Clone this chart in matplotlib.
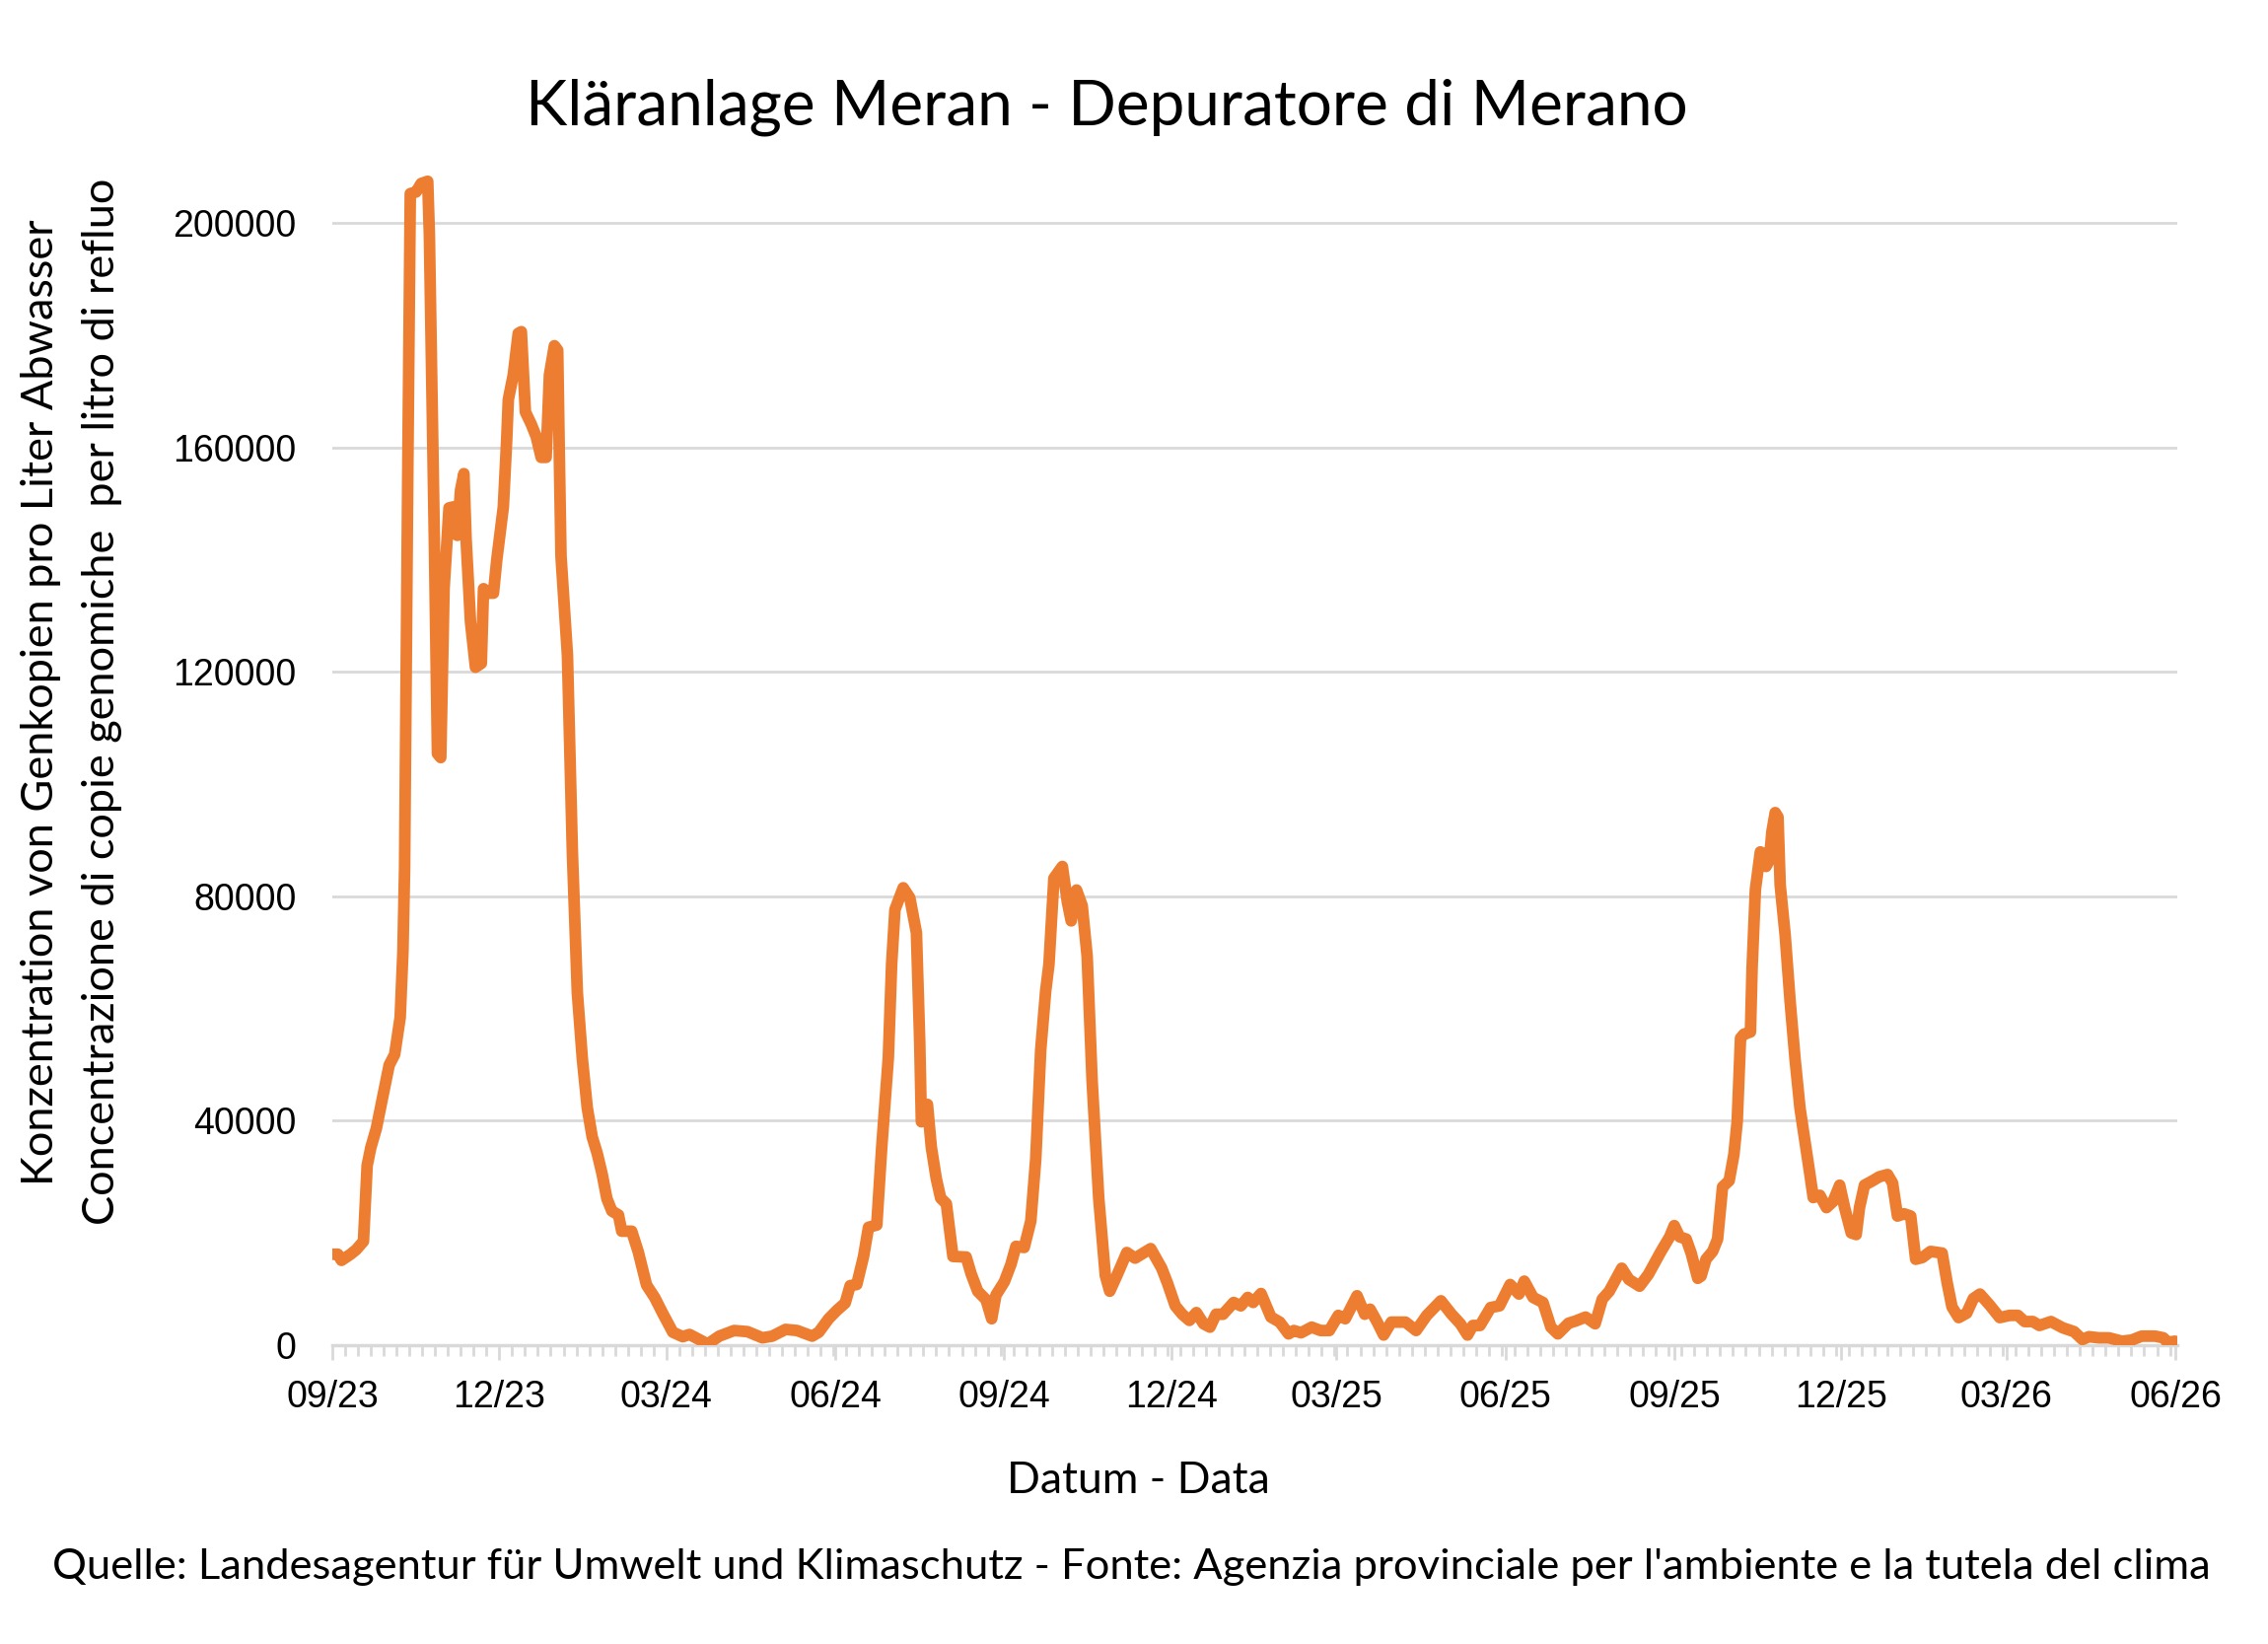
import numpy as np
import pandas as pd
import matplotlib
matplotlib.use("Agg")
import matplotlib.pyplot as plt
import matplotlib.dates as mdates
from matplotlib.ticker import FixedLocator

# --- data: days since 2023-09-01 and concentration (copies / litre) ---
start = pd.Timestamp("2023-09-01")

days = [
    0, 3, 5, 10, 13, 17, 19, 21, 24, 29, 31, 34, 37, 38.5, 39.4, 41.2, 42.5, 45.7, 48.4, 52,
    52.9, 55.6, 57.3, 59.1, 60.9, 63.6, 66.3, 68.1, 69.9, 71.7, 72.9, 75.3, 78, 81.2, 82.4, 84.8,
    87.8, 89.6, 93.2, 95, 95.9, 98.6, 101.3, 103, 105.2, 108.4, 111.1, 113.8, 116.5, 118.3, 121,
    122.8, 123.7, 124.6, 128.1, 130.8, 133.5, 136.2, 138.9, 141.6, 144.3, 147, 149.6, 152.3,
    155.9, 157.7, 163.1, 166.7, 171.2, 175.6, 180.1, 185.5, 190.9,
    194.6, 204.5, 210.8, 218.9, 226.2, 234.3, 239.7, 246.9, 253.2, 261.4, 265, 270.4, 274.9,
    279.4, 282.1, 285.7, 289.4, 292.1, 296.6, 299.3, 302.9, 304.7, 306.5, 311, 314.6, 318.2, 320,
    320.9, 324.2, 326.3, 329, 331.4, 334.5, 338.1, 345.3, 348, 351.6, 356.1, 359.2, 361.5, 366.1,
    369.7, 372.4, 376.9, 380.5, 383.2, 385.9, 388.6, 390.4, 393.1, 397.7, 400.4, 402.5, 405.4,
    408.5, 411.2, 413.9, 417.5, 421.1, 423.5, 427.4, 432.8, 437.3, 445.8, 451.8,
    455, 459.2, 463, 466.9, 470.7, 474.6, 478.1, 481.4, 485.2, 491, 494.9, 498.7, 501.6, 505.9,
    511.3, 516.1, 520.9, 523.8, 527.7, 533.5, 538.3, 543.1, 548, 551.8, 558.2, 562.4, 565.3,
    569.2, 572.7, 576.9, 584.6, 590.4, 596.2, 603.9, 609.7, 614.5, 618.4, 621.3, 625.2, 631,
    635.8, 641.6, 646.4, 649.3, 654.1, 659.5, 663.8, 667.6, 673.4, 677.3, 682.7, 687.9, 691.8,
    695.6, 702.4, 706.3, 712.1, 716.9, 723.6, 728.5, 731,
    733.9, 737.5, 740.2, 743.8, 745.6, 748.3, 751.9, 754.6, 757.3, 760.9, 763.5, 765.3, 767.1,
    768.9, 772.5, 773.4, 775.2, 777.9, 779.7, 781, 782.8, 784.2, 786, 787.5, 788.7, 791.4, 794.1,
    796.8, 799.5, 802.2, 804.9, 806.7, 810.3, 813.9, 817.5, 821.1, 823.8, 827.4, 830.1, 831.9,
    834.6, 839.1, 842.7, 847.2, 849.9, 852.6, 856.2, 859.8, 862.5, 866.1, 870.6, 876.9, 879.6,
    882.3, 885.9, 890.3, 893.9, 897.5, 902.9, 908.3, 913.7, 918.2, 921.8, 926.3, 929.9, 936.2,
    942.5, 948.8, 953.3, 956.9, 962.3, 967.7, 974.8, 980.2, 985.6, 992.9, 997.4, 999.7, 1003.7,
]

values = [
    16200, 16200, 15100, 16200, 17000, 18500, 32000, 35200, 38600, 46700, 49900, 51800, 58400,
    70200, 84800, 158000, 205200, 205500, 207000, 207400, 197900, 143600, 105400, 104700, 134800,
    149200, 149400, 144300, 152400, 155300, 143600, 128900, 120800, 121500, 134800, 134000,
    134000, 139900, 149400, 161200, 168500, 172900, 180300, 180600, 166300, 164100, 161900,
    158200, 158200, 172900, 178100, 177300, 158200, 140600, 123000, 87800, 62800, 51100, 42300,
    37100, 34200, 30500, 26100, 23900, 23200, 20300, 20300, 16600, 10700, 8500, 5600, 2300, 1500,
    1900, 200, 1600, 2600, 2400, 1300, 1600, 2800, 2600, 1600, 2300, 4700, 6200,
    7500, 10600, 10800, 15800, 21000, 21400, 35300, 51200, 67900, 77600, 81500, 79700, 73500, 54000,
    39800, 42900, 35300, 29700, 26200, 25200, 15800, 15700, 12700, 9600, 8100, 4700, 8900, 11300,
    14400, 17600, 17400, 22100, 33200, 52600, 63100, 67900, 83200, 85300, 79000, 75600, 81100,
    78300, 69300, 47100, 26200, 12400, 9600, 12400, 16500, 15500, 17200, 13700,
    11000, 7000, 5500, 4400, 5800, 3800, 3200, 5500, 5500, 7600, 7000, 8500, 7600, 9200,
    5000, 4100, 2000, 2600, 2200, 3200, 2600, 2600, 5300, 4700, 8800, 5500, 6400,
    4100, 1800, 4100, 4100, 2600, 5300, 7900, 5500, 3800, 1800, 3500, 3500, 6700,
    7000, 10800, 9100, 11400, 8500, 7600, 3200, 2000, 3900, 4300, 5000, 3800, 8200,
    9600, 13700, 11700, 10500, 12600, 16600, 19300, 21300,
    19300, 18900, 16400, 11900, 12300, 15300, 16700, 18900, 28200, 29300, 34000, 39900, 54700,
    55400, 55800, 67200, 81200, 87900, 87500, 85300, 86400, 91500, 94900, 94100, 82000, 73100, 61300,
    51000, 42200, 36300, 30400, 26300, 26700, 24500, 25600, 28500, 24500, 20000, 19700, 24500,
    28500, 29300, 30000, 30400, 28900, 23000, 23400, 23000, 15300, 15600, 16700, 16400, 11200,
    6800, 4900, 5700, 8300, 9100, 7100, 4900, 5300, 5300, 4200, 4200, 3500, 4200,
    3100, 2400, 1000, 1500, 1300, 1300, 700, 900, 1600, 1600, 1300, 500, 700,
]

y_ticks = [0, 40000, 80000, 120000, 160000, 200000]

title = "Kläranlage Meran - Depuratore di Merano"
y_label = "Konzentration von Genkopien pro Liter Abwasser\nConcentrazione di copie genomiche  per litro di refluo"
x_label = "Datum - Data"
source = ("Quelle: Landesagentur für Umwelt und Klimaschutz - "
          "Fonte: Agenzia provinciale per l'ambiente e la tutela del clima")

# --- figure ---
text_font = "Lato"
tick_font = "Liberation Sans"
orange = "#ED7D31"
grey = "#D9D9D9"

dates = start + pd.to_timedelta(days, unit="D")

fig = plt.figure(figsize=(23, 16.67), dpi=100)
ax = fig.add_axes([0.1465, 0.1818, 0.8135, 0.7168])

ax.plot(dates, values, color=orange, linewidth=8.5, solid_joinstyle="round",
        solid_capstyle="round", zorder=3)

ax.set_ylim(0, 210000)
ax.set_xlim(start, start + pd.Timedelta(days=1005))

ax.set_yticks(y_ticks)
ax.set_yticklabels([str(v) for v in y_ticks], fontfamily=tick_font, fontsize=27)
ax.yaxis.grid(True, color=grey, linewidth=2)
ax.set_axisbelow(True)
ax.tick_params(axis="y", length=0, pad=26)

ax.xaxis.set_major_locator(mdates.MonthLocator(bymonth=[3, 6, 9, 12]))
ax.xaxis.set_major_formatter(mdates.DateFormatter("%m/%y"))
weekly = start + pd.to_timedelta(np.arange(0, 1006, 7), unit="D")
ax.xaxis.set_minor_locator(FixedLocator(mdates.date2num(weekly)))
ax.tick_params(axis="x", which="major", length=11, width=2, color=grey, pad=14)
ax.tick_params(axis="x", which="minor", length=8, width=2, color=grey)
for lbl in ax.get_xticklabels():
    lbl.set_fontfamily(tick_font)
    lbl.set_fontsize(27)

for side in ["top", "right", "left"]:
    ax.spines[side].set_visible(False)
ax.spines["bottom"].set_color(grey)
ax.spines["bottom"].set_linewidth(2.5)

fig.text(0.488, 0.935, title, ha="center", va="center", fontsize=46, family=text_font)
fig.text(0.0315, 0.573, y_label, ha="center", va="center", rotation=90,
         fontsize=32.5, family=text_font, linespacing=1.62, multialignment="center")
fig.text(0.502, 0.099, x_label, ha="center", va="center", fontsize=32, family=text_font)
fig.text(0.4988, 0.0468, source, ha="center", va="center", fontsize=31.3, family=text_font)

fig.savefig("out.png", dpi=100, facecolor="white")
